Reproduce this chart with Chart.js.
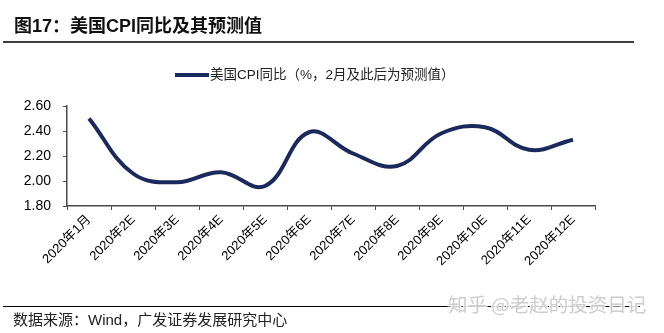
<!DOCTYPE html>
<html>
<head>
<meta charset="utf-8">
<script src="https://cdn.jsdelivr.net/npm/chart.js@4"></script>
<style>
  html, body { margin: 0; padding: 0; background: #fff; }
  #wrap { position: relative; width: 664px; height: 333px; }
  canvas { display: block; }
</style>
</head>
<body>
<div id="wrap"><canvas id="c" width="664" height="333"></canvas></div>
<script>
// 美国CPI同比：1月为实际值，2月起为预测值
const months = ['2020年1月', '2020年2E', '2020年3E', '2020年4E', '2020年5E', '2020年6E',
                '2020年7E', '2020年8E', '2020年9E', '2020年10E', '2020年11E', '2020年12E'];
const cpiYoY = [2.50, 2.06, 1.99, 2.07, 1.96, 2.39, 2.22, 2.12, 2.38, 2.43, 2.25, 2.33];
const seriesName = '美国CPI同比（%，2月及此后为预测值）';
const titleText = '图17：美国CPI同比及其预测值';
const sourceText = '数据来源：Wind，广发证券发展研究中心';
const watermarkText = '知乎 @老赵的投资日记';

const LINE_COLOR = '#1b2a5c';
const AXIS_COLOR = '#4a4a4a';
const LATIN = '"Liberation Sans", Arial, "Noto Sans CJK SC", sans-serif';

// Header, legend, footer and watermark drawn around the plot
const frame = {
  id: 'frame',
  afterDraw(chart) {
    const ctx = chart.ctx;
    ctx.save();
    // title
    ctx.fillStyle = '#111';
    ctx.font = 'bold 18px ' + LATIN;
    ctx.textBaseline = 'middle';
    ctx.textAlign = 'left';
    ctx.fillText(titleText, 14, 27);
    // rules
    ctx.strokeStyle = '#000';
    ctx.lineWidth = 1.5;
    ctx.beginPath();
    ctx.moveTo(3, 42); ctx.lineTo(634, 42);
    ctx.stroke();
    ctx.lineWidth = 1.2;
    ctx.beginPath();
    ctx.moveTo(3, 306.5); ctx.lineTo(640, 306.5);
    ctx.stroke();
    // legend
    const ds = chart.data.datasets[0];
    ctx.strokeStyle = ds.borderColor;
    ctx.lineWidth = 4;
    ctx.beginPath();
    ctx.moveTo(175, 75); ctx.lineTo(209, 75);
    ctx.stroke();
    ctx.fillStyle = '#222';
    ctx.font = '13.5px ' + LATIN;
    ctx.fillText(ds.label, 210, 75);
    // source
    ctx.fillStyle = '#222';
    ctx.font = '15px ' + LATIN;
    ctx.fillText(sourceText, 13, 321);
    // watermark
    ctx.font = '19.5px "Noto Sans CJK SC", sans-serif';
    ctx.lineWidth = 3;
    ctx.strokeStyle = 'rgba(255,255,255,0.85)';
    ctx.strokeText(watermarkText, 448, 305);
    ctx.fillStyle = 'rgba(200,200,200,0.9)';
    ctx.fillText(watermarkText, 448, 305);
    ctx.restore();
  }
};

new Chart(document.getElementById('c'), {
  type: 'line',
  data: {
    labels: months,
    datasets: [{
      label: seriesName,
      data: cpiYoY,
      borderColor: LINE_COLOR,
      borderWidth: 4,
      tension: 0.4,
      pointRadius: 0,
      fill: false
    }]
  },
  options: {
    responsive: false,
    animation: false,
    devicePixelRatio: 1,
    layout: { padding: { left: 0, right: 69, top: 106, bottom: 47 } },
    plugins: { legend: { display: false }, tooltip: { enabled: false } },
    scales: {
      x: {
        type: 'category',
        offset: true,
        afterFit(scale) { scale.height = 80; },
        grid: { offset: true, drawOnChartArea: false, drawTicks: true, tickLength: 4, color: AXIS_COLOR },
        border: { display: true, color: AXIS_COLOR, width: 1.5 },
        ticks: {
          autoSkip: false,
          maxRotation: 45,
          minRotation: 45,
          padding: 2,
          color: '#000',
          font: { family: LATIN, size: 13 }
        }
      },
      y: {
        min: 1.8,
        max: 2.6,
        afterFit(scale) { scale.width = 67; },
        grid: { drawOnChartArea: false, drawTicks: true, tickLength: 4, color: AXIS_COLOR },
        border: { display: true, color: AXIS_COLOR, width: 1.5 },
        ticks: {
          stepSize: 0.2,
          padding: 12,
          color: '#000',
          font: { family: LATIN, size: 14 },
          callback: v => Number(v).toFixed(2)
        }
      }
    }
  },
  plugins: [frame]
});
</script>
</body>
</html>
